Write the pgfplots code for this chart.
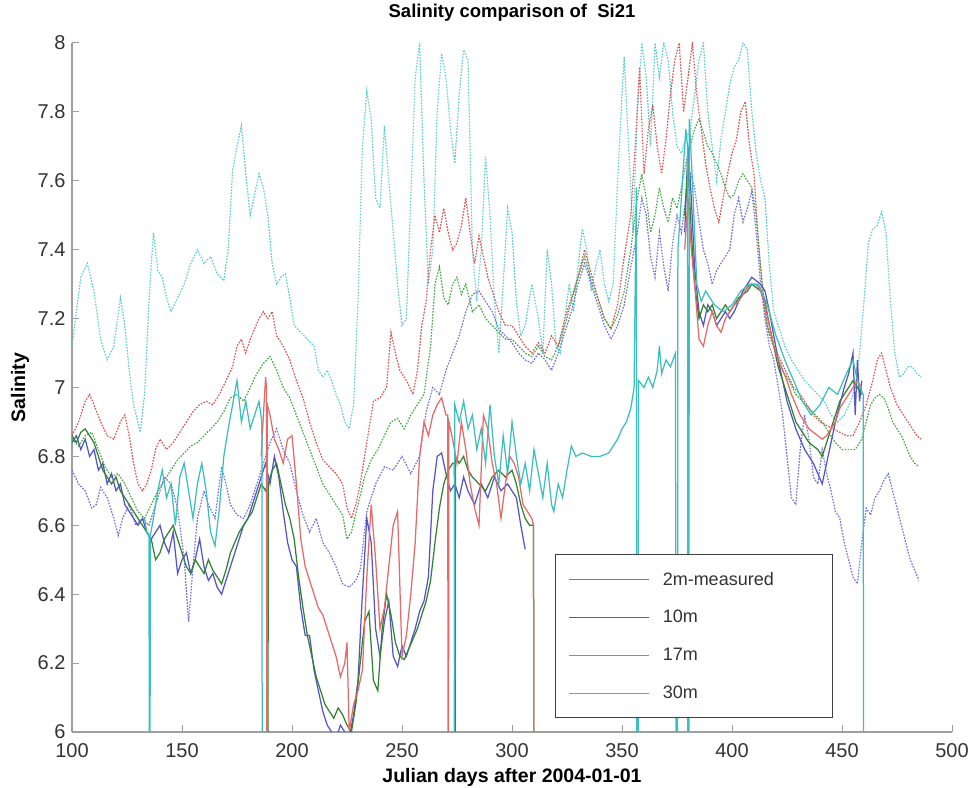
\documentclass[border=0pt]{standalone}
\usepackage{fontspec}
\setmainfont{Liberation Sans}
\usepackage{pgfplots}
\pgfplotsset{compat=1.18}
\definecolor{bS}{RGB}{85,85,200}
\definecolor{bD}{RGB}{110,110,225}
\definecolor{gS}{RGB}{50,130,50}
\definecolor{gD}{RGB}{70,165,70}
\definecolor{rS}{RGB}{228,105,105}
\definecolor{rD}{RGB}{220,80,80}
\definecolor{cS}{RGB}{60,190,190}
\definecolor{cD}{RGB}{95,205,205}
\begin{document}
\begin{tikzpicture}
\begin{axis}[
  name=ax,
  scale only axis, width=880pt, height=689pt,
  xmin=100, xmax=500, ymin=6, ymax=8,
  axis x line*=bottom, axis y line*=left,
  x axis line style={-}, y axis line style={-},
  axis line style={draw=gray!75, line width=1.6pt},
  tick style={draw=gray!75, line width=1pt},
  tick align=inside, major tick length=7pt,
  xtick={100,150,200,250,300,350,400,450,500},
  ytick={6,6.2,6.4,6.6,6.8,7,7.2,7.4,7.6,7.8,8},
  /pgf/number format/assume math mode=true,
  ticklabel style={font=\fontsize{20}{24}\selectfont, text=black!80},
  yticklabel style={xshift=-3pt},
  xticklabel style={yshift=-8pt},
  title={Salinity comparison of \ Si21},
  title style={font=\bfseries\fontsize{18.5}{22}\selectfont, at={(axis description cs:0.5,1.028)}, anchor=base},
  xlabel={Julian days after 2004-01-01},
  xlabel style={font=\bfseries\fontsize{19.5}{23}\selectfont, at={(axis description cs:0.5,-0.074)}, anchor=base},
  ylabel={Salinity},
  ylabel style={font=\bfseries\fontsize{19.5}{23}\selectfont, at={(axis description cs:-0.0534,0.5)}, anchor=base},
  unbounded coords=jump,
  legend style={at={(axis cs:319.5,6.04)}, anchor=south west, draw=black!75, line width=0.9pt, fill=white,
    font=\fontsize{18}{21}\selectfont, text=black!80,
    inner xsep=13pt, inner ysep=5.5pt, row sep=0pt,
    nodes={minimum height=38pt, inner sep=0pt, anchor=west}, /tikz/column sep=13pt},
  legend cell align=left,
  legend image code/.code={\draw[#1] (0pt,0pt) -- (80pt,0pt);},
  dotl/.style={line width=1.2pt, dash pattern=on 1.6pt off 1.4pt},
  soll/.style={line width=1.25pt},
]
% ---------- model (dotted) ----------
\addplot[forget plot, dotl, cD] coordinates {
(100,7.12)(102,7.22)(104,7.32)(107,7.36)(110,7.28)(113,7.14)(116,7.08)(119,7.12)(122,7.26)(124,7.18)(126,7.05)(128,6.95)(131,6.87)(133,6.98)(135,7.25)(137,7.45)(139,7.34)(141,7.32)(143,7.26)(145,7.22)(148,7.26)(151,7.30)(154,7.36)(157,7.40)(160,7.36)(163,7.38)(166,7.33)(169,7.31)(171,7.40)(173,7.63)(175,7.70)(177,7.76)(179,7.62)(181,7.50)(183,7.56)(185,7.62)(187,7.58)(189,7.50)(191,7.36)(193,7.30)(195,7.32)(197,7.33)(199,7.26)(201,7.18)(204,7.16)(207,7.14)(210,7.12)(212,7.05)(214,7.03)(216,7.05)(218,7.02)(220,6.98)(222,6.95)(224,6.90)(226,6.88)(228,6.95)(230,7.25)(232,7.70)(234,7.86)(236,7.78)(238,7.55)(240,7.52)(242,7.76)(244,7.60)(246,7.45)(248,7.30)(250,7.18)(252,7.20)(254,7.55)(256,7.90)(258,8.00)(260,7.60)(262,7.30)(264,7.40)(266,7.80)(268,7.97)(270,7.90)(272,7.75)(274,7.65)(276,7.85)(278,7.98)(280,7.95)(282,7.40)(284,7.25)(286,7.40)(288,7.67)(290,7.50)(292,7.25)(294,7.10)(296,7.30)(298,7.52)(300,7.45)(302,7.25)(304,7.15)(306,7.18)(309,7.30)(312,7.20)(314,7.10)(316,7.40)(318,7.30)(320,7.12)(322,7.10)(324,7.20)(326,7.30)(328,7.22)(330,7.35)(332,7.46)(334,7.40)(336,7.28)(338,7.35)(340,7.40)(342,7.30)(344,7.25)(346,7.30)(348,7.60)(350,7.85)(351,7.96)(353,7.70)(355,7.45)(357,7.80)(359,8.00)(361,7.90)(363,7.70)(365,8.00)(367,7.90)(369,8.00)(371,7.95)(373,7.80)(375,7.70)(377,7.68)(379,7.72)(381,7.75)(383,7.85)(385,7.95)(387,8.00)(389,7.80)(391,7.70)(393,7.60)(395,7.72)(397,7.80)(399,7.88)(401,7.93)(403,7.95)(405,8.00)(407,7.98)(409,7.80)(411,7.68)(413,7.60)(415,7.55)(417,7.35)(419,7.22)(421,7.18)(424,7.12)(427,7.08)(430,7.05)(433,7.02)(436,7.00)(439,6.98)(442,6.96)(445,6.92)(448,6.90)(451,6.92)(454,6.96)(456,7.00)(458,7.10)(460,7.25)(462,7.42)(464,7.46)(466,7.47)(468,7.51)(470,7.45)(472,7.25)(474,7.10)(476,7.03)(478,7.04)(480,7.06)(482,7.06)(484,7.04)(486,7.03)
};
\addplot[forget plot, dotl, rD] coordinates {
(100,6.86)(103,6.90)(106,6.96)(108,6.98)(110,6.95)(113,6.90)(116,6.86)(119,6.85)(122,6.90)(124,6.92)(126,6.86)(128,6.78)(130,6.72)(132,6.70)(134,6.72)(136,6.76)(138,6.82)(140,6.85)(143,6.82)(146,6.84)(149,6.87)(152,6.90)(155,6.93)(158,6.95)(161,6.96)(164,6.95)(167,6.98)(170,7.02)(173,7.06)(175,7.12)(177,7.14)(179,7.10)(181,7.14)(183,7.17)(185,7.20)(187,7.22)(189,7.20)(191,7.22)(193,7.15)(196,7.12)(199,7.08)(202,7.02)(205,6.97)(208,6.90)(211,6.84)(214,6.79)(217,6.77)(220,6.75)(223,6.72)(225,6.65)(227,6.62)(229,6.66)(231,6.72)(233,6.80)(235,6.88)(237,6.96)(240,6.97)(243,7.00)(245,7.16)(247,7.10)(249,7.05)(252,7.02)(255,6.98)(257,7.05)(259,7.18)(261,7.25)(263,7.40)(265,7.50)(267,7.45)(269,7.52)(271,7.45)(273,7.40)(275,7.42)(277,7.47)(279,7.55)(281,7.45)(283,7.36)(285,7.44)(287,7.38)(289,7.32)(291,7.28)(294,7.22)(297,7.18)(300,7.18)(303,7.15)(306,7.12)(309,7.10)(312,7.13)(315,7.10)(318,7.15)(321,7.12)(324,7.20)(327,7.26)(330,7.32)(333,7.40)(336,7.33)(339,7.26)(342,7.20)(345,7.17)(348,7.24)(351,7.38)(354,7.50)(356,7.70)(358,7.93)(360,7.62)(362,7.75)(364,7.82)(366,7.70)(368,7.62)(370,7.72)(372,7.85)(374,7.95)(376,8.00)(378,7.80)(380,7.90)(382,8.00)(384,7.85)(386,7.75)(388,7.65)(390,7.58)(392,7.52)(394,7.48)(396,7.55)(398,7.62)(400,7.68)(402,7.72)(404,7.80)(406,7.83)(408,7.70)(410,7.62)(412,7.42)(414,7.28)(416,7.18)(419,7.12)(422,7.08)(425,7.04)(428,7.00)(431,6.98)(434,6.95)(437,6.92)(440,6.90)(443,6.89)(446,6.88)(449,6.87)(452,6.86)(455,6.86)(458,6.90)(461,6.95)(464,7.02)(466,7.08)(468,7.10)(470,7.05)(472,7.00)(475,6.95)(478,6.92)(481,6.89)(484,6.86)(486,6.85)
};
\addplot[forget plot, dotl, gD] coordinates {
(100,6.85)(103,6.83)(106,6.86)(109,6.87)(112,6.82)(115,6.77)(118,6.74)(121,6.75)(124,6.72)(127,6.68)(130,6.64)(133,6.62)(136,6.66)(139,6.70)(142,6.73)(145,6.76)(148,6.79)(151,6.81)(154,6.83)(157,6.84)(160,6.86)(163,6.88)(166,6.90)(169,6.93)(172,6.97)(175,6.98)(178,6.96)(181,7.00)(184,7.04)(187,7.07)(190,7.09)(193,7.05)(196,7.00)(199,6.97)(202,6.92)(205,6.87)(208,6.82)(211,6.77)(214,6.72)(217,6.69)(220,6.66)(223,6.63)(225,6.56)(227,6.58)(230,6.66)(233,6.74)(236,6.79)(239,6.82)(242,6.86)(245,6.90)(248,6.91)(251,6.88)(254,6.92)(257,6.95)(260,6.98)(263,7.12)(265,7.30)(267,7.35)(269,7.26)(271,7.24)(273,7.30)(275,7.32)(277,7.27)(279,7.30)(282,7.22)(285,7.24)(288,7.20)(291,7.18)(294,7.16)(297,7.14)(300,7.14)(303,7.12)(306,7.10)(309,7.09)(312,7.12)(315,7.09)(318,7.08)(321,7.12)(324,7.18)(327,7.25)(330,7.32)(333,7.38)(336,7.31)(339,7.26)(342,7.20)(345,7.17)(348,7.21)(351,7.28)(354,7.40)(357,7.55)(359,7.62)(361,7.55)(363,7.45)(365,7.50)(367,7.58)(369,7.52)(371,7.48)(373,7.55)(375,7.52)(377,7.58)(379,7.65)(381,7.70)(383,7.75)(385,7.78)(387,7.74)(389,7.70)(391,7.68)(393,7.65)(395,7.62)(397,7.58)(399,7.55)(401,7.56)(403,7.60)(405,7.62)(407,7.60)(409,7.58)(411,7.50)(413,7.35)(415,7.22)(417,7.15)(420,7.10)(423,7.05)(426,7.02)(429,6.98)(432,6.96)(435,6.94)(438,6.92)(441,6.90)(444,6.87)(447,6.84)(450,6.82)(453,6.82)(456,6.82)(459,6.85)(461,6.90)(463,6.95)(465,6.97)(467,6.98)(469,6.97)(471,6.94)(473,6.90)(475,6.88)(477,6.86)(479,6.83)(481,6.80)(483,6.78)(485,6.77)
};
\addplot[forget plot, dotl, bD] coordinates {
(100,6.76)(103,6.72)(106,6.70)(109,6.65)(111,6.66)(113,6.71)(116,6.68)(119,6.62)(121,6.57)(123,6.62)(126,6.66)(129,6.60)(132,6.62)(135,6.60)(138,6.66)(140,6.70)(142,6.74)(145,6.72)(148,6.65)(151,6.50)(153,6.32)(155,6.48)(157,6.62)(160,6.70)(162,6.66)(165,6.62)(168,6.77)(170,6.72)(172,6.66)(175,6.63)(178,6.62)(181,6.66)(184,6.72)(187,6.78)(190,6.84)(193,6.88)(196,6.82)(199,6.78)(202,6.70)(205,6.63)(208,6.58)(211,6.62)(214,6.55)(217,6.52)(220,6.48)(223,6.43)(226,6.42)(229,6.44)(231,6.47)(234,6.64)(238,6.72)(242,6.77)(246,6.76)(250,6.80)(254,6.75)(258,6.80)(261,6.93)(264,7.00)(267,6.98)(270,7.05)(273,7.10)(276,7.15)(279,7.22)(282,7.27)(285,7.28)(288,7.25)(291,7.22)(294,7.17)(297,7.15)(300,7.13)(303,7.10)(306,7.08)(309,7.07)(312,7.10)(315,7.08)(318,7.05)(321,7.10)(324,7.16)(327,7.22)(330,7.30)(333,7.36)(336,7.30)(339,7.24)(342,7.18)(345,7.14)(348,7.18)(351,7.24)(354,7.35)(357,7.45)(359,7.55)(361,7.50)(363,7.38)(365,7.32)(367,7.45)(369,7.35)(371,7.28)(373,7.42)(375,7.50)(377,7.45)(379,7.55)(381,7.62)(383,7.58)(385,7.48)(387,7.40)(389,7.36)(391,7.30)(393,7.34)(395,7.36)(397,7.38)(399,7.40)(401,7.50)(403,7.55)(405,7.48)(407,7.52)(409,7.57)(411,7.45)(413,7.30)(415,7.20)(417,7.12)(419,7.08)(421,7.00)(423,6.92)(425,6.80)(427,6.68)(429,6.66)(431,6.82)(433,6.92)(435,6.85)(437,6.74)(439,6.72)(441,6.82)(443,6.75)(445,6.70)(447,6.64)(449,6.62)(451,6.55)(453,6.50)(455,6.45)(457,6.43)(459,6.55)(461,6.65)(463,6.63)(465,6.68)(467,6.70)(469,6.73)(471,6.75)(473,6.70)(475,6.65)(477,6.60)(479,6.55)(481,6.50)(483,6.47)(485,6.44)
};
% ---------- measured (solid) ----------
\addplot[forget plot, soll, bS] coordinates {
(100,6.84)(102,6.86)(104,6.82)(106,6.85)(108,6.80)(110,6.82)(112,6.76)(114,6.78)(116,6.72)(118,6.75)(120,6.70)(122,6.72)(124,6.66)(126,6.64)(128,6.62)(130,6.60)(132,6.62)(134,6.58)(136,6.56)(138,6.58)(140,6.60)(142,6.55)(144,6.52)(146,6.58)(148,6.46)(150,6.50)(152,6.52)(154,6.46)(156,6.50)(158,6.56)(160,6.48)(162,6.44)(164,6.46)(166,6.42)(168,6.40)(170,6.44)(172,6.48)(174,6.52)(176,6.56)(178,6.60)(180,6.62)(182,6.66)(184,6.70)(186,6.74)(188,6.78)(190,6.72)(192,6.80)(194,6.74)(196,6.64)(198,6.55)(200,6.50)(202,6.48)(204,6.36)(206,6.28)(208,6.28)(210,6.18)(212,6.12)(214,6.06)(216,6.02)(218,6.00)(220,5.98)(222,6.02)(224,6.00)(226,5.98)(228,6.05)(230,6.15)(232,6.40)(234,6.62)(236,6.55)(238,6.30)(240,6.22)(242,6.32)(244,6.38)(246,6.22)(248,6.19)(250,6.25)(252,6.22)(254,6.26)(256,6.30)(258,6.35)(260,6.38)(262,6.45)(264,6.70)(266,6.80)(268,6.81)(270,6.75)(272,6.70)(274,6.72)(276,6.68)(278,6.74)(280,6.70)(283,6.66)(286,6.72)(289,6.68)(292,6.74)(295,6.70)(298,6.72)(300,6.70)(302,6.68)(304,6.60)(306,6.53)(307,nan)
(378,nan)(378.5,7.45)(380,7.70)(381.5,7.55)(383,7.35)(385,7.22)(387,7.18)(389,7.24)(391,7.22)(393,7.18)(395,7.20)(397,7.22)(399,7.20)(401,7.22)(403,7.25)(405,7.28)(407,7.30)(409,7.32)(411,7.31)(413,7.30)(415,7.28)(417,7.22)(419,7.15)(421,7.08)(423,7.02)(425,6.96)(427,6.92)(429,6.88)(431,6.85)(433,6.82)(435,6.80)(437,6.78)(439,6.75)(441,6.72)(443,6.78)(445,6.84)(447,6.90)(449,6.95)(451,7.00)(453,7.04)(455,7.10)(456,6.92)(457,7.08)(458,6.96)(459,7.02)
};
\addplot[forget plot, soll, gS] coordinates {
(100,6.86)(102,6.84)(104,6.87)(106,6.88)(108,6.86)(110,6.84)(112,6.80)(114,6.76)(116,6.74)(118,6.72)(120,6.74)(122,6.70)(124,6.68)(126,6.66)(128,6.64)(130,6.62)(132,6.60)(134,6.58)(136,6.56)(138,6.50)(140,6.52)(142,6.56)(144,6.58)(146,6.60)(148,6.56)(150,6.52)(152,6.48)(154,6.46)(156,6.50)(158,6.48)(160,6.46)(162,6.50)(164,6.47)(166,6.45)(168,6.43)(170,6.47)(172,6.52)(174,6.55)(176,6.58)(178,6.60)(180,6.62)(182,6.64)(184,6.68)(186,6.72)(188,6.70)(188.8,6.72)(189,5)(189.2,6.72)(191,6.76)(193,6.78)(195,6.72)(197,6.66)(199,6.62)(201,6.56)(203,6.45)(205,6.36)(207,6.28)(209,6.22)(211,6.16)(213,6.12)(215,6.08)(217,6.06)(219,6.04)(221,6.07)(223,6.05)(225,6.02)(227,6.00)(229,6.08)(231,6.20)(233,6.32)(235,6.35)(237,6.15)(239,6.12)(241,6.30)(243,6.40)(245,6.34)(247,6.26)(249,6.22)(251,6.21)(253,6.24)(255,6.27)(257,6.30)(259,6.34)(261,6.38)(263,6.44)(265,6.55)(267,6.65)(269,6.72)(271,6.76)(273,6.78)(273.8,6.78)(274,5)(274.3,6.80)(276,6.78)(278,6.80)(280,6.76)(282,6.74)(285,6.72)(288,6.70)(291,6.74)(294,6.76)(297,6.74)(300,6.76)(302,6.72)(304,6.66)(306,6.62)(308,6.60)(309.8,6.60)(310,5)(310.3,nan)
(378,nan)(378.5,7.50)(380,7.65)(381.5,7.45)(383,7.30)(385,7.20)(387,7.24)(389,7.22)(391,7.24)(393,7.20)(395,7.22)(397,7.24)(399,7.22)(401,7.24)(403,7.26)(405,7.27)(407,7.28)(409,7.30)(411,7.29)(413,7.28)(415,7.25)(417,7.18)(419,7.12)(421,7.06)(423,7.02)(425,6.98)(427,6.94)(429,6.90)(431,6.88)(433,6.86)(435,6.84)(437,6.83)(439,6.82)(441,6.80)(443,6.84)(445,6.88)(447,6.92)(449,6.96)(451,6.98)(453,7.00)(455,7.02)(457,7.00)(459,6.98)
};
\addplot[forget plot, soll, rS] coordinates {
(186,6.80)(187,6.92)(188,7.03)(188.4,7.00)(188.6,5)(188.8,6.95)(190,6.92)(192,6.85)(194,6.82)(196,6.78)(198,6.85)(200,6.86)(202,6.72)(204,6.56)(206,6.48)(208,6.44)(210,6.40)(212,6.36)(214,6.34)(216,6.30)(218,6.26)(220,6.22)(222,6.16)(224,6.20)(225,6.26)(226,6.00)(228,6.08)(230,6.12)(232,6.18)(234,6.45)(236,6.66)(238,6.50)(240,6.30)(242,6.36)(244,6.48)(246,6.60)(248,6.64)(250,6.22)(252,6.28)(254,6.40)(256,6.55)(258,6.80)(260,6.90)(262,6.86)(264,6.92)(266,6.95)(268,6.97)(270,6.92)(270.8,6.92)(271,5)(271.3,6.90)(273,6.85)(275,6.78)(277,6.90)(279,6.82)(281,6.72)(283,6.65)(285,6.60)(287,6.92)(289,6.88)(291,6.78)(293,6.72)(295,6.62)(297,6.72)(299,6.80)(301,6.78)(303,6.74)(305,6.66)(307,6.64)(309,6.62)(309.8,6.60)(310,5)(310.3,nan)
(378,nan)(378.5,7.40)(380,7.55)(381.5,7.40)(383,7.30)(385,7.14)(387,7.12)(389,7.18)(391,7.22)(393,7.18)(395,7.16)(397,7.20)(399,7.22)(401,7.24)(403,7.25)(405,7.27)(407,7.29)(409,7.30)(411,7.30)(413,7.28)(415,7.24)(417,7.18)(419,7.12)(421,7.08)(423,7.05)(425,7.02)(427,6.98)(429,6.95)(431,6.92)(433,6.90)(435,6.88)(437,6.87)(439,6.86)(441,6.85)(443,6.86)(445,6.88)(447,6.90)(449,6.94)(451,6.96)(453,6.98)(455,7.00)(457,7.02)(459,7.00)
};
\addplot[forget plot, soll, cS] coordinates {
(133,6.62)(134,6.58)(135,6.57)(135.3,5)(135.6,6.57)(137,6.62)(139,6.70)(141,6.76)(143,6.68)(145,6.72)(147,6.60)(149,6.74)(151,6.78)(153,6.70)(155,6.62)(157,6.72)(159,6.78)(161,6.70)(163,6.58)(165,6.54)(167,6.65)(169,6.80)(171,6.88)(173,6.95)(175,7.02)(177,6.90)(179,6.96)(181,6.88)(183,6.92)(185,6.96)(186.3,6.90)(186.6,5)(186.9,nan)
(273.5,nan)(273.8,5)(274,6.95)(276,6.90)(278,6.96)(280,6.88)(282,6.92)(284,6.82)(286,6.88)(288,6.78)(290,6.95)(292,6.80)(294,6.72)(296,6.86)(298,6.75)(300,6.90)(302,6.80)(304,6.72)(306,6.78)(308,6.70)(310,6.82)(312,6.75)(314,6.68)(316,6.78)(318,6.66)(319,6.64)(321,6.72)(323,6.68)(325,6.76)(327,6.83)(329,6.80)(332,6.81)(336,6.80)(340,6.80)(344,6.81)(346,6.83)(348,6.85)(350,6.88)(352,6.90)(354,6.94)(355.5,7.00)(356.5,7.58)(356.8,5)(357.2,5)(357.5,7.02)(360,7.00)(362,7.03)(364,7.00)(366,7.05)(367,7.12)(368,7.04)(370,7.08)(372,7.06)(374.3,7.10)(374.7,5)(375.1,5)(375.4,7.40)(377,7.55)(379,7.75)(379.8,7.70)(380,5)(380.3,5)(380.6,7.78)(382,7.60)(384,7.30)(386,7.25)(388,7.28)(392,7.24)(396,7.22)(400,7.24)(404,7.28)(408,7.30)(412,7.30)(416,7.24)(420,7.15)(424,7.08)(428,7.02)(432,6.96)(436,6.92)(440,6.95)(444,7.00)(448,6.98)(452,7.04)(455,7.08)(457,7.02)(459.6,6.98)(460,5)(460.4,nan)
};
\addlegendimage{line width=1.4pt, color=bD}
\addlegendentry{2m-measured\hspace*{46pt}}
\addlegendimage{line width=1.4pt, color=gS}
\addlegendentry{10m}
\addlegendimage{line width=1.4pt, color=rS}
\addlegendentry{17m}
\addlegendimage{line width=1.4pt, color=cS}
\addlegendentry{30m}
\end{axis}
\pgfresetboundingbox
\path ([shift={(-72pt,-55pt)}]ax.south west) rectangle ([shift={(16pt,43pt)}]ax.north east);
\end{tikzpicture}
\end{document}
